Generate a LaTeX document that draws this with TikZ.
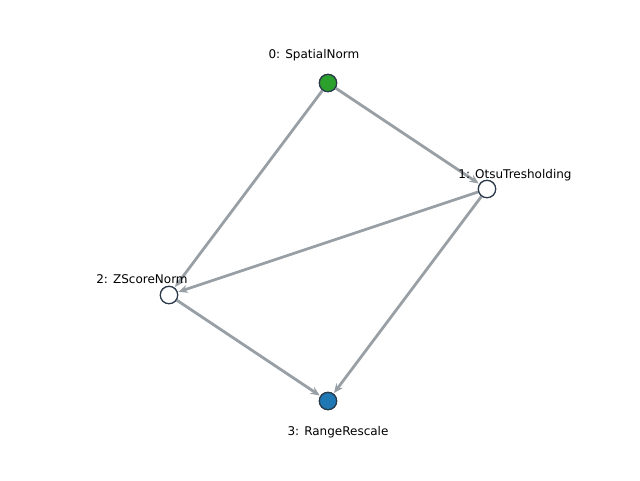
\documentclass[tikz,border=0pt]{standalone}
\usepackage{fontspec}
\setmainfont{DejaVu Sans}
\usetikzlibrary{arrows.meta}
\definecolor{edgegray}{HTML}{98A0A6}
\definecolor{nodeedge}{HTML}{2B3A4A}
\definecolor{ngreen}{HTML}{2CA02C}
\definecolor{nblue}{HTML}{1F77B4}
\tikzset{
  vert/.style={circle, draw=nodeedge, line width=0.9pt, minimum size=13pt, inner sep=0pt},
  lab/.style={font=\fontsize{9}{10.5}\selectfont, inner sep=0pt},
  conn/.style={draw=edgegray, line width=2.1pt, -{Stealth[length=7pt,width=6pt]}, shorten >=0.5pt}
}
\begin{document}
\begin{tikzpicture}[x=0.75pt,y=-0.75pt]
\useasboundingbox (0,0) rectangle (640,480);
\coordinate (p0) at (328,83);
\coordinate (p1) at (487,189);
\coordinate (p2) at (169,295);
\coordinate (p3) at (328,401);
\path (p0) node[vert, fill=ngreen] (n0) {};
\path (p1) node[vert, fill=white] (n1) {};
\path (p2) node[vert, fill=white] (n2) {};
\path (p3) node[vert, fill=nblue] (n3) {};
\draw[conn] (n0) -- (n1);
\draw[conn] (n0) -- (n2);
\draw[conn] (n1) -- (n2);
\draw[conn] (n1) -- (n3);
\draw[conn] (n2) -- (n3);
\path (p0) node[vert, fill=ngreen] {};
\path (p1) node[vert, fill=white] {};
\path (p2) node[vert, fill=white] {};
\path (p3) node[vert, fill=nblue] {};
\node[lab] (l0) at (314,55.5) {0: SpatialNorm};
\node[lab] (l1) at (515,175.5) {1: OtsuTresholding};
\node[lab] (l2) at (142,279.5) {2: ZScoreNorm};
\node[lab] (l3) at (338,432) {3: RangeRescale};
\end{tikzpicture}
\end{document}
